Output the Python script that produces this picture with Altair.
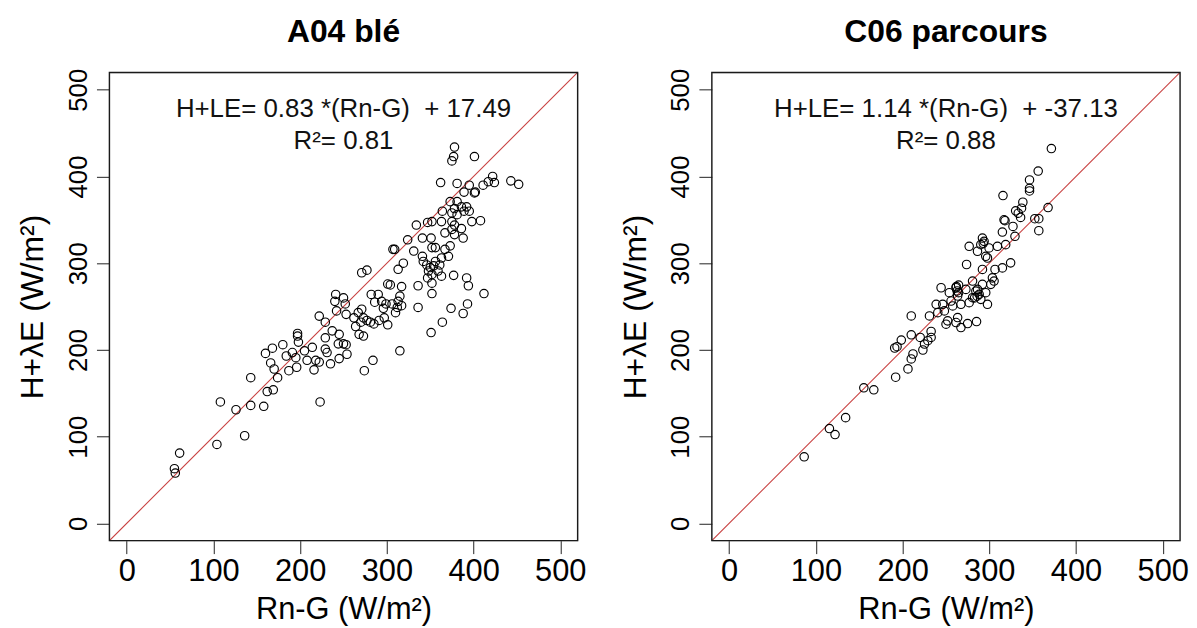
import altair as alt
import pandas as pd

# ---- data ----
# A04 blé : (Rn-G, H+λE)
a04_x = [61, 55, 56, 104, 136, 108, 126, 143, 158, 143, 162, 169, 160, 168, 180, 166, 170, 174, 184, 191,
         195, 187, 196, 197, 197, 198, 223, 205, 214, 208, 218, 216, 222, 229, 231, 235, 245, 250, 254, 274,
         284, 244, 253, 378, 377, 375, 401, 362, 381, 395, 411, 417, 422, 424, 443, 452, 401, 402, 389, 373,
         381, 386, 378, 389, 392, 395, 375, 381, 364, 398, 408, 375, 378, 386, 375, 378, 388, 367, 363, 352,
         334, 347, 324, 341, 351, 307, 309, 331, 341, 352, 356, 367, 363, 373, 371, 342, 346, 350, 354, 348,
         352, 347, 356, 361, 359, 363, 377, 319, 313, 271, 277, 301, 304, 317, 336, 352, 352, 392, 394, 412,
         282, 290, 294, 286, 299, 296, 306, 312, 313, 310, 315, 317, 336, 374, 393, 388, 364, 351, 241, 250,
         240, 252, 242, 253, 222, 229, 262, 267, 271, 273, 270, 277, 281, 285, 291, 301, 297, 264, 237, 245,
         268, 273, 229, 315]
a04_y = [81, 63, 58, 91, 101, 140, 131, 136, 135, 168, 152, 154, 196, 202, 206, 185, 178, 168, 193, 197,
         191, 176, 180, 219, 216, 209, 140, 199, 203, 188, 188, 177, 186, 201, 197, 184, 190, 207, 195, 176,
         188, 207, 206, 434, 423, 418, 423, 393, 392, 390, 390, 394, 400, 393, 395, 391, 381, 382, 382, 371,
         371, 365, 363, 360, 365, 360, 358, 356, 360, 348, 349, 348, 344, 340, 339, 333, 329, 335, 348, 348,
         344, 347, 327, 329, 329, 316, 316, 314, 308, 318, 318, 316, 306, 320, 308, 302, 298, 295, 297, 291,
         287, 283, 302, 298, 291, 285, 286, 300, 293, 289, 292, 276, 275, 273, 274, 277, 265, 283, 274, 265,
         264, 264, 256, 255, 253, 248, 253, 249, 256, 243, 262, 251, 249, 248, 253, 242, 232, 220, 264, 260,
         256, 253, 245, 241, 239, 232, 237, 243, 247, 237, 232, 234, 232, 230, 234, 229, 237, 227, 222, 218,
         218, 216, 214, 199]

# C06 parcours : (Rn-G, H+λE)
c06_x = [86.5, 115.6, 122.1, 134.3, 155.3, 166.8, 192.0, 206.2, 210.0, 212.0, 190.9, 193.6, 198.5, 210.0,
         210.0, 223.4, 225.3, 229.1, 232.9, 232.9, 220.3, 231.0, 240.6, 248.2, 238.7, 250.1, 252.0, 261.6,
         267.3, 275.0, 285.3, 263.5, 246.3, 255.9, 244.4, 253.9, 261.6, 264.6, 264.6, 267.3, 263.5, 257.8,
         273.0, 276.8, 280.7, 284.5, 288.3, 292.1, 290.2, 297.9, 295.9, 301.7, 305.5, 303.6, 280.7, 286.4,
         273.8, 292.1, 306.6, 315.1, 324.6, 276.8, 286.4, 292.1, 294.0, 295.9, 297.9, 290.2, 299.7, 309.4,
         318.9, 315.1, 318.1, 317.0, 327.3, 329.6, 315.8, 330.4, 333.4, 337.2, 338.7, 336.1, 346.4, 346.4,
         346.4, 356.4, 352.5, 357.1, 357.1, 367.8, 371.6, 263.0, 286.0, 283.0, 293.0, 262.0]
c06_y = [76.7, 109.3, 102.4, 121.9, 156.3, 154.0, 168.5, 178.1, 189.6, 195.3, 202.2, 203.7, 211.3, 217.4,
         239.2, 199.9, 206.8, 210.6, 214.4, 221.3, 214.4, 239.2, 243.0, 245.0, 252.6, 229.7, 233.5, 231.6,
         225.8, 230.4, 232.7, 237.3, 252.6, 256.4, 271.7, 266.0, 271.7, 274.8, 266.0, 252.6, 262.2, 250.7,
         269.8, 254.5, 260.2, 267.9, 264.1, 275.6, 258.3, 252.6, 266.0, 275.6, 279.4, 283.1, 279.4, 269.8,
         298.5, 292.8, 292.8, 294.6, 300.4, 319.5, 313.8, 329.0, 325.2, 308.0, 306.0, 321.4, 317.6, 319.5,
         321.4, 335.9, 349.0, 350.1, 342.4, 331.0, 378.0, 360.4, 357.7, 363.4, 370.3, 352.8, 386.4, 383.3,
         396.0, 406.3, 351.3, 351.3, 337.5, 364.2, 432.2, 268.0, 262.0, 260.0, 323.0, 273.0]

titles = ["A04 blé", "C06 parcours"]
eq_lines = ["H+LE= 0.83 *(Rn-G) \u00a0+ 17.49", "H+LE= 1.14 *(Rn-G) \u00a0+ -37.13"]
r2_lines = ["R²= 0.81", "R²= 0.88"]
ann_x = [250, 250]
ann_y1 = [468.6, 468.6]
ann_y2 = [432.0, 432.0]
axis_lo, axis_hi = -20, 520
ticks = [0, 100, 200, 300, 400, 500]

FONT = "Liberation Sans"
LINE_RED = "#c84040"

xs = alt.Scale(domain=[axis_lo, axis_hi], nice=False, zero=False)
ys = alt.Scale(domain=[axis_lo, axis_hi], nice=False, zero=False)

x_axis = alt.Axis(values=ticks, grid=False, domain=False, tickSize=13, tickColor="#222",
                  labelFontSize=31, labelFont=FONT, labelColor="black", labelPadding=3,
                  labelFlush=False, labelOverlap=False,
                  titleFontSize=31, titleFont=FONT, titleFontWeight="normal", titleColor="black",
                  titlePadding=8)
y_axis = alt.Axis(values=ticks, grid=False, domain=False, tickSize=13, tickColor="#222",
                  labelFontSize=26, labelFont=FONT, labelColor="black", labelPadding=5,
                  labelAngle=270, labelAlign="center", labelBaseline="bottom",
                  labelFlush=False, labelOverlap=False,
                  titleFontSize=32, titleFont=FONT, titleFontWeight="normal", titleColor="black",
                  titlePadding=16)


def panel(i, xv, yv):
    df = pd.DataFrame({"x": xv, "y": yv})
    X = alt.X("x:Q", scale=xs, axis=x_axis, title="Rn-G (W/m²)")
    Y = alt.Y("y:Q", scale=ys, axis=y_axis, title="H+λE (W/m²)")
    ddf = pd.DataFrame({"x": [axis_lo], "y": [axis_lo], "x2": [axis_hi], "y2": [axis_hi],
                        "panel": [titles[i]]})
    line = alt.Chart(ddf).mark_rule(clip=True, strokeWidth=1.1).encode(
        x=X, y=Y, x2="x2:Q", y2="y2:Q",
        color=alt.Color("panel:N", scale=alt.Scale(domain=titles, range=[LINE_RED, LINE_RED]),
                        legend=None))
    box = alt.Chart(ddf).mark_rect(filled=False, stroke="#1a1a1a", strokeWidth=1.4,
                                   fillOpacity=0).encode(x=X, y=Y, x2="x2:Q", y2="y2:Q")
    pts = alt.Chart(df).mark_point(shape="circle", filled=False, color="black",
                                   size=72, strokeWidth=1.15, opacity=1).encode(x=X, y=Y)
    ann = pd.DataFrame({"x": [ann_x[i], ann_x[i]], "y": [ann_y1[i], ann_y2[i]],
                        "t": [eq_lines[i], r2_lines[i]]})
    txt = alt.Chart(ann).mark_text(font=FONT, fontSize=26, color="#111", align="center",
                                   baseline="alphabetic").encode(x=X, y=Y, text="t:N")
    return alt.layer(line, pts, txt, box).properties(
        width=471, height=471,
        title=alt.TitleParams(titles[i], font=FONT, fontSize=32, fontWeight="bold", color="black",
                              anchor="middle", baseline="alphabetic", offset=-6, frame="group"))


chart = alt.hconcat(panel(0, a04_x, a04_y), panel(1, c06_x, c06_y), spacing=32).properties(
    padding={"left": 8, "top": 6, "right": 0, "bottom": 0}
).resolve_scale(color="shared").configure_view(strokeOpacity=0).configure(background="white")

chart.save("out.html", embed_options={"renderer": "svg", "actions": False})
